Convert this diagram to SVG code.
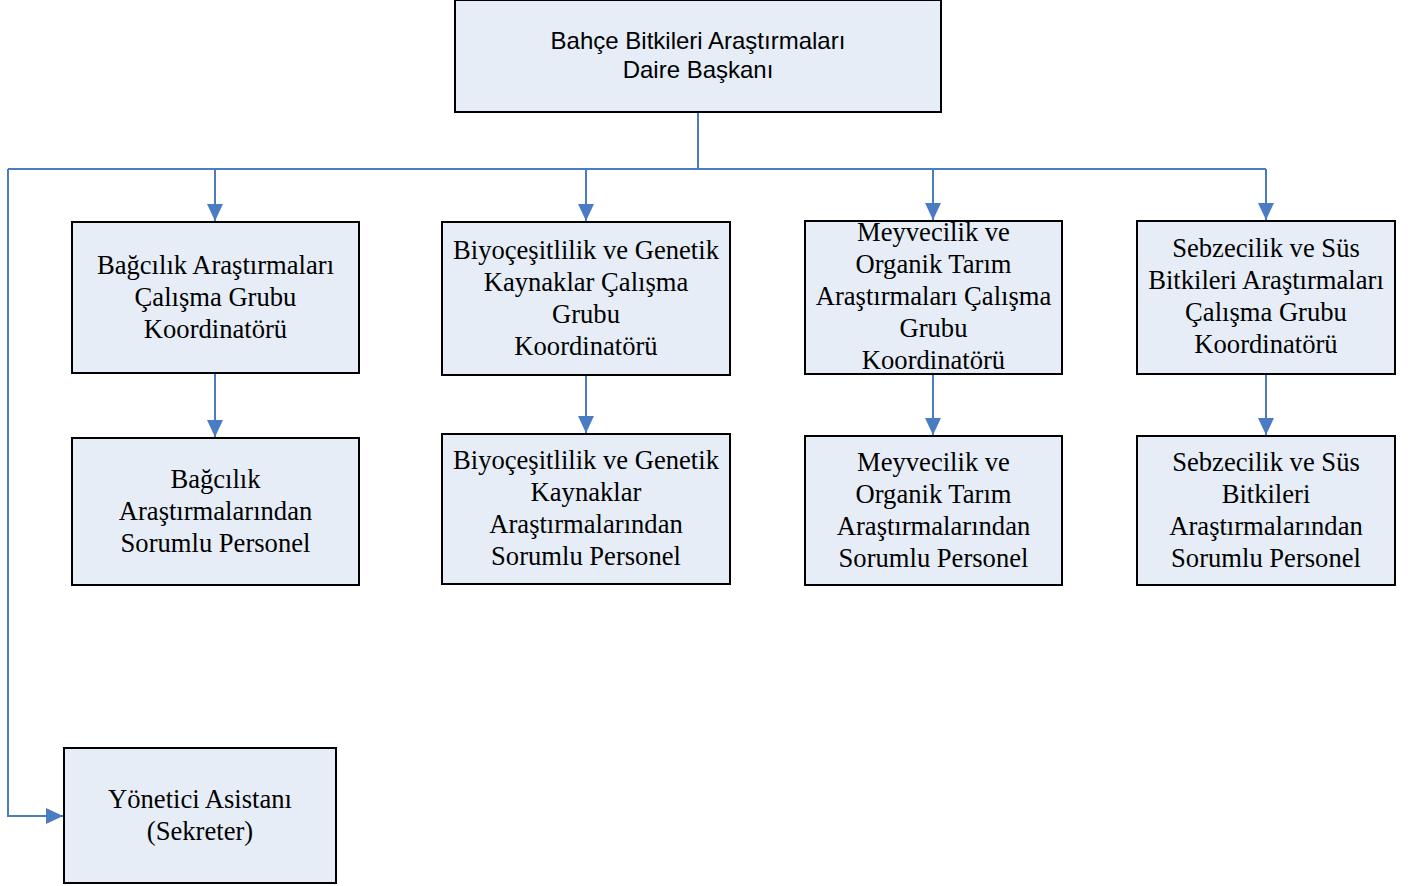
<svg xmlns="http://www.w3.org/2000/svg" width="1410" height="886" viewBox="0 0 1410 886">
<style>
.box{fill:#E6EDF7;stroke:#000;stroke-width:2}
.ser{font-family:"Liberation Serif","Times New Roman",serif;font-size:26.6px;fill:#000;text-anchor:middle}
.san{font-family:"Liberation Sans",Arial,sans-serif;font-size:24px;fill:#000;text-anchor:middle}
.con{fill:none;stroke:#4A7CC4;stroke-width:2}
</style>
<defs>
<marker id="ah" markerWidth="17" markerHeight="16" refX="17" refY="8" orient="auto" markerUnits="userSpaceOnUse">
<path d="M0,0 L17,8 L0,16 Z" fill="#4A7CC4"/>
</marker>
</defs>
<rect width="1410" height="886" fill="#fff"/>
<g id="connectors">
<path class="con" d="M698,113 V169"/>
<path class="con" d="M8,169 H1266"/>
<path class="con" d="M215,169 V221" marker-end="url(#ah)"/>
<path class="con" d="M586,169 V221" marker-end="url(#ah)"/>
<path class="con" d="M933,169 V220" marker-end="url(#ah)"/>
<path class="con" d="M1266,169 V220" marker-end="url(#ah)"/>
<path class="con" d="M8,169 V816 H63" marker-end="url(#ah)"/>
<path class="con" d="M215,373 V437" marker-end="url(#ah)"/>
<path class="con" d="M586,375 V433" marker-end="url(#ah)"/>
<path class="con" d="M933,374 V435" marker-end="url(#ah)"/>
<path class="con" d="M1266,374 V435" marker-end="url(#ah)"/>
</g>
<g id="n0"><rect class="box" x="455" y="0" width="486" height="112"/>
<text class="san" x="698" y="49">Bahçe Bitkileri Araştırmaları</text>
<text class="san" x="698" y="78">Daire Başkanı</text></g>
<g id="n1"><rect class="box" x="72" y="222" width="287" height="151"/>
<text class="ser" x="215.5" y="274">Bağcılık Araştırmaları</text>
<text class="ser" x="215.5" y="306">Çalışma Grubu</text>
<text class="ser" x="215.5" y="338">Koordinatörü</text></g>
<g id="n2"><rect class="box" x="442" y="222" width="288" height="153"/>
<text class="ser" x="586" y="259">Biyoçeşitlilik ve Genetik</text>
<text class="ser" x="586" y="291">Kaynaklar Çalışma</text>
<text class="ser" x="586" y="323">Grubu</text>
<text class="ser" x="586" y="355">Koordinatörü</text></g>
<g id="n3"><rect class="box" x="805" y="221" width="257" height="153"/>
<text class="ser" x="933.5" y="241">Meyvecilik ve</text>
<text class="ser" x="933.5" y="273">Organik Tarım</text>
<text class="ser" x="933.5" y="305">Araştırmaları Çalışma</text>
<text class="ser" x="933.5" y="337">Grubu</text>
<text class="ser" x="933.5" y="369">Koordinatörü</text></g>
<g id="n4"><rect class="box" x="1137" y="221" width="258" height="153"/>
<text class="ser" x="1266" y="257">Sebzecilik ve Süs</text>
<text class="ser" x="1266" y="289">Bitkileri Araştırmaları</text>
<text class="ser" x="1266" y="321">Çalışma Grubu</text>
<text class="ser" x="1266" y="353">Koordinatörü</text></g>
<g id="n5"><rect class="box" x="72" y="438" width="287" height="147"/>
<text class="ser" x="215.5" y="488">Bağcılık</text>
<text class="ser" x="215.5" y="520">Araştırmalarından</text>
<text class="ser" x="215.5" y="552">Sorumlu Personel</text></g>
<g id="n6"><rect class="box" x="442" y="434" width="288" height="150"/>
<text class="ser" x="586" y="469">Biyoçeşitlilik ve Genetik</text>
<text class="ser" x="586" y="501">Kaynaklar</text>
<text class="ser" x="586" y="533">Araştırmalarından</text>
<text class="ser" x="586" y="565">Sorumlu Personel</text></g>
<g id="n7"><rect class="box" x="805" y="436" width="257" height="149"/>
<text class="ser" x="933.5" y="471">Meyvecilik ve</text>
<text class="ser" x="933.5" y="503">Organik Tarım</text>
<text class="ser" x="933.5" y="535">Araştırmalarından</text>
<text class="ser" x="933.5" y="567">Sorumlu Personel</text></g>
<g id="n8"><rect class="box" x="1137" y="436" width="258" height="149"/>
<text class="ser" x="1266" y="471">Sebzecilik ve Süs</text>
<text class="ser" x="1266" y="503">Bitkileri</text>
<text class="ser" x="1266" y="535">Araştırmalarından</text>
<text class="ser" x="1266" y="567">Sorumlu Personel</text></g>
<g id="n9"><rect class="box" x="64" y="748" width="272" height="135"/>
<text class="ser" x="200" y="808">Yönetici Asistanı</text>
<text class="ser" x="200" y="840">(Sekreter)</text></g>
</svg>
